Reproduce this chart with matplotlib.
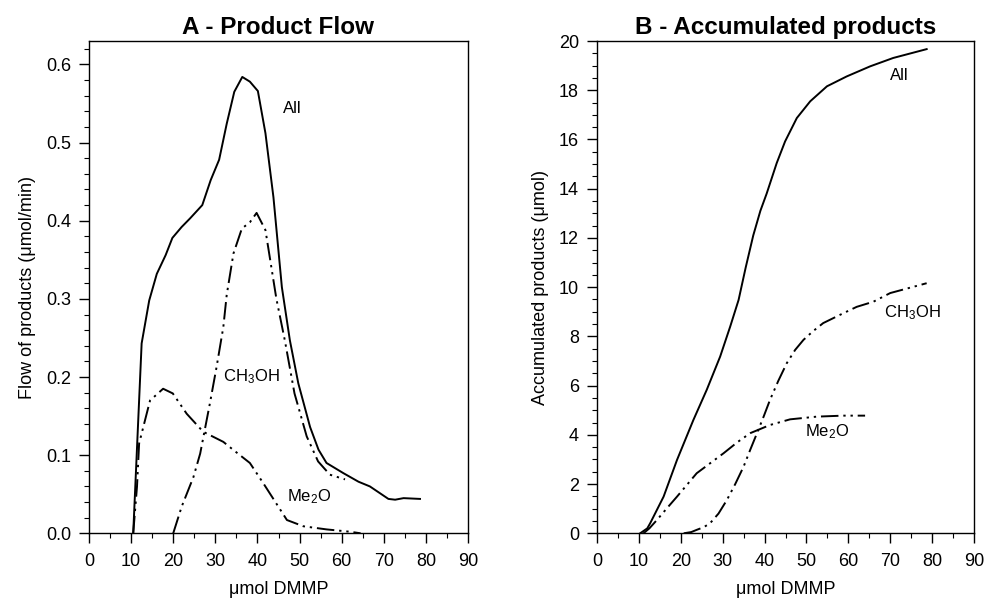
import matplotlib
matplotlib.use("Agg")
import matplotlib.pyplot as plt
from matplotlib.ticker import MultipleLocator, FormatStrFormatter

plt.rcParams['font.family'] = ['Liberation Sans', 'DejaVu Sans']
plt.rcParams['mathtext.fontset'] = 'custom'
plt.rcParams['mathtext.rm'] = 'Liberation Sans'
plt.rcParams['mathtext.it'] = 'Liberation Sans'
plt.rcParams['mathtext.bf'] = 'Liberation Sans:bold'
plt.rcParams['mathtext.default'] = 'regular'

# A - product flow (umol/min) vs umol DMMP
a_all_x = [10.5, 12.5, 14.3, 16.1, 18.2, 19.8, 22.0, 24.0, 26.9, 28.9, 30.9, 32.7, 34.5, 36.4,
           38.2, 40.1, 41.9, 43.8, 45.8, 47.7, 49.7, 52.5, 54.5, 56.4, 60.4, 64.0, 66.7, 71.1,
           72.7, 74.7, 78.6]
a_all_y = [0.0, 0.243, 0.298, 0.332, 0.356, 0.378, 0.392, 0.403, 0.420, 0.452, 0.478, 0.524,
           0.565, 0.584, 0.578, 0.566, 0.512, 0.430, 0.315, 0.247, 0.192, 0.136, 0.107, 0.090,
           0.077, 0.066, 0.060, 0.044, 0.043, 0.045, 0.044]

a_me2o_x = [10.5, 11.4, 11.9, 14.5, 17.6, 19.9, 23.2, 27.1, 31.9, 34.2, 38.2, 41.4, 47.0,
            50.9, 56.4, 62.0, 64.5]
a_me2o_y = [0.0, 0.060, 0.115, 0.170, 0.185, 0.179, 0.153, 0.130, 0.117, 0.107, 0.090, 0.064,
            0.017, 0.009, 0.005, 0.002, 0.0]

a_meoh_x = [20.0, 22.0, 24.8, 26.4, 28.7, 30.3, 31.9, 32.7, 34.3, 36.3, 38.2, 39.8, 41.9,
            44.5, 46.5, 48.8, 51.7, 54.4, 57.2, 60.8]
a_meoh_y = [0.0, 0.034, 0.072, 0.102, 0.166, 0.213, 0.264, 0.305, 0.358, 0.390, 0.398, 0.410,
            0.388, 0.300, 0.247, 0.179, 0.124, 0.092, 0.075, 0.069]

# B - accumulated products (umol) vs umol DMMP
b_all_x = [10.3, 12.0, 12.7, 14.3, 15.9, 19.1, 23.0, 26.2, 29.4, 31.8, 33.8, 35.5, 37.3, 39.0,
           40.5, 42.9, 44.9, 47.7, 50.9, 54.9, 59.6, 65.2, 70.7, 78.7]
b_all_y = [0.0, 0.2, 0.41, 0.95, 1.49, 2.98, 4.60, 5.83, 7.18, 8.40, 9.48, 10.8, 12.1, 13.1,
           13.8, 15.04, 15.92, 16.87, 17.55, 18.16, 18.56, 18.97, 19.31, 19.67]

b_me2o_x = [11.1, 12.5, 14.3, 16.5, 19.1, 23.8, 30.2, 33.5, 36.6, 41.3, 46.1, 52.5, 58.8, 64.0]
b_me2o_y = [0.0, 0.2, 0.54, 0.98, 1.49, 2.44, 3.25, 3.70, 4.07, 4.40, 4.63, 4.74, 4.78, 4.78]

b_meoh_x = [20.7, 22.5, 23.8, 25.5, 27.0, 29.0, 31.0, 33.0, 35.0, 36.6, 38.2, 39.8, 41.3,
            43.3, 45.3, 47.3, 49.3, 51.5, 54.0, 58.8, 62.0, 66.0, 70.0, 78.7]
b_meoh_y = [0.0, 0.05, 0.14, 0.25, 0.41, 0.80, 1.35, 2.0, 2.71, 3.4, 4.07, 4.75, 5.42,
            6.2, 6.91, 7.45, 7.86, 8.2, 8.54, 8.94, 9.2, 9.41, 9.76, 10.16]

ddot = (0, (9, 2.5, 1.2, 2.5, 1.2, 2.5))

fig = plt.figure(figsize=(9.85, 6.04), dpi=100)
axA = fig.add_axes([89/985, 1-533.3/604, (468-89)/985, (533.3-41)/604])
axB = fig.add_axes([597/985, 1-533.3/604, (974-597)/985, (533.3-41)/604])

axA.plot(a_all_x, a_all_y, color='black', lw=1.4)
axA.plot(a_me2o_x, a_me2o_y, color='black', lw=1.4, ls=ddot)
axA.plot(a_meoh_x, a_meoh_y, color='black', lw=1.4, ls=ddot)
axA.set_xlim(0, 90)
axA.set_ylim(0, 0.63)
axA.yaxis.set_major_locator(MultipleLocator(0.1))
axA.yaxis.set_minor_locator(MultipleLocator(0.02))
axA.yaxis.set_major_formatter(FormatStrFormatter('%.1f'))
axA.text(46.1, 0.543, 'All', fontsize=12, va='center')
axA.text(31.9, 0.200, 'CH$_3$OH', fontsize=12, va='center')
axA.text(47.0, 0.047, 'Me$_2$O', fontsize=12, va='center')
axA.set_title('A - Product Flow', fontsize=17.5, fontweight='bold', pad=5)
axA.set_ylabel('Flow of products (\u03bcmol/min)', fontsize=13, labelpad=7)

axB.plot(b_all_x, b_all_y, color='black', lw=1.4)
axB.plot(b_me2o_x, b_me2o_y, color='black', lw=1.4, ls=ddot)
axB.plot(b_meoh_x, b_meoh_y, color='black', lw=1.4, ls=ddot)
axB.set_xlim(0, 90)
axB.set_ylim(0, 20)
axB.yaxis.set_major_locator(MultipleLocator(2))
axB.yaxis.set_minor_locator(MultipleLocator(0.5))
axB.text(70.0, 18.6, 'All', fontsize=12, va='center')
axB.text(68.4, 8.97, 'CH$_3$OH', fontsize=12, va='center')
axB.text(49.7, 4.13, 'Me$_2$O', fontsize=12, va='center')
axB.set_title('B - Accumulated products', fontsize=17.5, fontweight='bold', pad=5)
axB.set_ylabel('Accumulated products (\u03bcmol)', fontsize=13, labelpad=7)

for ax in (axA, axB):
    ax.xaxis.set_major_locator(MultipleLocator(10))
    ax.xaxis.set_minor_locator(MultipleLocator(5))
    ax.tick_params(which='major', direction='out', length=7, width=1, labelsize=13)
    ax.tick_params(which='minor', direction='out', length=3.6, width=0.8)
    ax.tick_params(axis='y', which='major', pad=6)
    ax.tick_params(axis='x', which='major', pad=7)
    ax.set_xlabel('\u03bcmol DMMP', fontsize=13, labelpad=8)
    for s in ax.spines.values():
        s.set_linewidth(1)

fig.savefig('out.png', dpi=100)
